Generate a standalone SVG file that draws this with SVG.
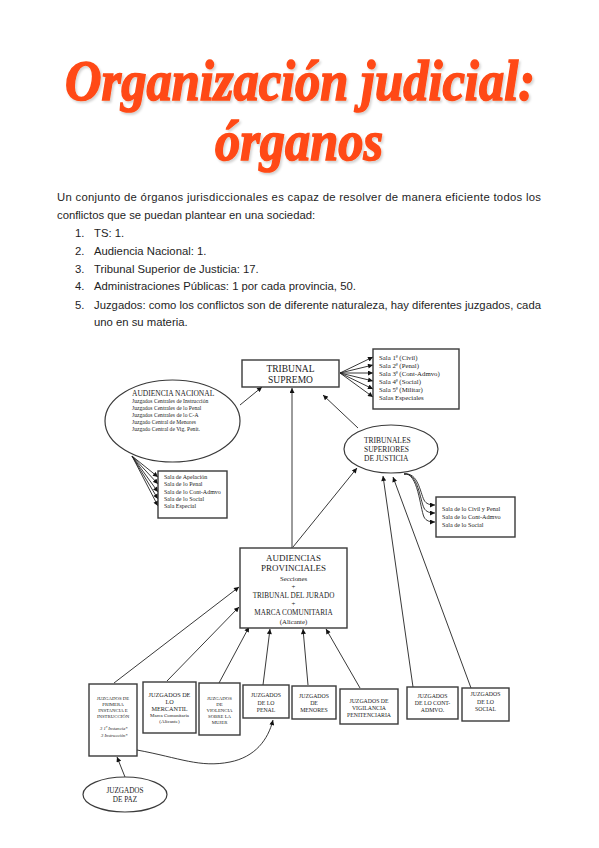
<svg xmlns="http://www.w3.org/2000/svg" width="599" height="848" viewBox="0 0 599 848">
<style>
.title{font-family:"Liberation Serif","DejaVu Serif",serif;font-weight:bold;font-style:italic;fill:#FF4A14;stroke:#FF4A14;stroke-width:1.4px;text-anchor:middle}
.p{font-family:"Liberation Sans",Arial,sans-serif;font-size:11.3px;fill:#1e1e1e}
.t{font-family:"Liberation Serif","Times New Roman",serif;fill:#222}
.c{text-anchor:middle}
.box{fill:#fff;stroke:#3a3a3a;stroke-width:1.4}
.ell{fill:#fff;stroke:#3a3a3a;stroke-width:1.2}
.ar{fill:none;stroke:#222;stroke-width:0.9;marker-end:url(#ah)}
</style>
<defs>
<marker id="ah" viewBox="0 0 10 10" refX="10" refY="5" markerWidth="6" markerHeight="5" markerUnits="userSpaceOnUse" orient="auto">
<path d="M0,0 L10,5 L0,10 z" fill="#111"/>
</marker>
<filter id="sh" filterUnits="userSpaceOnUse" x="0" y="30" width="599" height="160">
<feDropShadow dx="1.5" dy="2" stdDeviation="1.2" flood-color="#000" flood-opacity="0.18"/>
</filter>
</defs>
<rect width="599" height="848" fill="#fff"/>

<g id="title" filter="url(#sh)">
<text class="title" transform="translate(300,100) scale(1,1.16)" x="0" y="0" font-size="50" textLength="470" lengthAdjust="spacingAndGlyphs">Organización judicial:</text>
<text class="title" transform="translate(299,160) scale(1,1.16)" x="0" y="0" font-size="50" textLength="168" lengthAdjust="spacingAndGlyphs">órganos</text>
</g>

<g id="intro">
<text class="p" x="57" y="201" textLength="484" lengthAdjust="spacing">Un conjunto de órganos jurisdiccionales es capaz de resolver de manera eficiente todos los</text>
<text class="p" x="57" y="219">conflictos que se puedan plantear en una sociedad:</text>
<text class="p" x="75" y="237">1.</text><text class="p" x="94" y="237">TS: 1.</text>
<text class="p" x="75" y="255">2.</text><text class="p" x="94" y="255">Audiencia Nacional: 1.</text>
<text class="p" x="75" y="273">3.</text><text class="p" x="94" y="273">Tribunal Superior de Justicia: 17.</text>
<text class="p" x="75" y="290">4.</text><text class="p" x="94" y="290">Administraciones Públicas: 1 por cada provincia, 50.</text>
<text class="p" x="75" y="309">5.</text><text class="p" x="94" y="309" textLength="447" lengthAdjust="spacing">Juzgados: como los conflictos son de diferente naturaleza, hay diferentes juzgados, cada</text>
<text class="p" x="94" y="326">uno en su materia.</text>
</g>

<g id="connectors">
<path class="ar" d="M340,373 L373,357"/>
<path class="ar" d="M340,373 L373,365"/>
<path class="ar" d="M340,373 L373,373"/>
<path class="ar" d="M340,373 L373,381"/>
<path class="ar" d="M340,373 L373,389"/>
<path class="ar" d="M340,373 L373,397"/>
<path class="ar" d="M240,405 L262,387"/>
<path class="ar" d="M132,456 L158,477"/>
<path class="ar" d="M132,456 L158,484"/>
<path class="ar" d="M132,456 L158,492"/>
<path class="ar" d="M132,456 L158,499"/>
<path class="ar" d="M132,456 L158,506"/>
<path class="ar" d="M292,548 L292,388"/>
<path class="ar" d="M358,428 L323,395"/>
<path class="ar" d="M293,547 L357,468"/>
<path class="ar" d="M404,474 C418,472 420,492 424,500 C426,504 430,505 435,505"/>
<path class="ar" d="M404,474 C418,472 420,500 424,508 C426,512 430,513 435,513"/>
<path class="ar" d="M404,474 C418,472 420,508 424,517 C426,521 430,522 435,522"/>
<path class="ar" d="M114,683 L239,587"/>
<path class="ar" d="M167,681 L239,607"/>
<path class="ar" d="M219,683 L249,627"/>
<path class="ar" d="M263,685 L270,629"/>
<path class="ar" d="M308,685 L303,629"/>
<path class="ar" d="M360,688 L326,629"/>
<path class="ar" d="M413,687 L383,476"/>
<path class="ar" d="M471,688 L393,477"/>
<path class="ar" d="M125,777 L117,757"/>
<path class="ar" d="M137,750 C180,758 200,768 230,762 C255,757 268,740 273,720"/>
</g>

<g id="tribunal-supremo">
<rect class="box" x="242" y="360" width="97" height="27"/>
<text class="t c" x="290.5" y="372" font-size="9.5">TRIBUNAL</text>
<text class="t c" x="290.5" y="383" font-size="9.5">SUPREMO</text>
</g>

<g id="salas-ts">
<rect class="box" x="373" y="349" width="86" height="60"/>
<text class="t" x="379" y="359.5" font-size="6.8">Sala 1ª (Civil)</text>
<text class="t" x="379" y="367.5" font-size="6.8">Sala 2ª (Penal)</text>
<text class="t" x="379" y="375.5" font-size="6.8">Sala 3ª (Cont-Admvo)</text>
<text class="t" x="379" y="383.5" font-size="6.8">Sala 4ª (Social)</text>
<text class="t" x="379" y="391.5" font-size="6.8">Sala 5ª (Militar)</text>
<text class="t" x="379" y="399.5" font-size="6.8">Salas Especiales</text>
</g>

<g id="audiencia-nacional">
<ellipse class="ell" cx="172.5" cy="421" rx="67.5" ry="41"/>
<text class="t" x="132" y="396" font-size="7.5">AUDIENCIA NACIONAL</text>
<text class="t" x="132" y="403" font-size="5.6">Juzgados Centrales de Instrucción</text>
<text class="t" x="132" y="410" font-size="5.6">Juzgados Centrales de lo Penal</text>
<text class="t" x="132" y="417" font-size="5.6">Juzgados Centrales de lo C-A</text>
<text class="t" x="132" y="424" font-size="5.6">Juzgado Central de Menores</text>
<text class="t" x="132" y="431" font-size="5.6">Juzgado Central de Vig. Penit.</text>
</g>

<g id="salas-an">
<rect class="box" x="158" y="471" width="69" height="47"/>
<text class="t" x="164" y="479" font-size="6">Sala de Apelación</text>
<text class="t" x="164" y="486" font-size="6">Sala de lo Penal</text>
<text class="t" x="164" y="494" font-size="6">Sala de lo Cont-Admvo</text>
<text class="t" x="164" y="501" font-size="6">Sala de lo Social</text>
<text class="t" x="164" y="508" font-size="6">Sala Especial</text>
</g>

<g id="tsj">
<ellipse class="ell" cx="391" cy="449" rx="47" ry="24"/>
<text class="t" x="364" y="442.5" font-size="7.5">TRIBUNALES</text>
<text class="t" x="364" y="451.5" font-size="7.5">SUPERIORES</text>
<text class="t" x="364" y="460.5" font-size="7.5">DE JUSTICIA</text>
</g>

<g id="salas-tsj">
<rect class="box" x="436" y="497" width="79" height="40"/>
<text class="t" x="442" y="511" font-size="6.2">Sala de lo Civil y Penal</text>
<text class="t" x="442" y="519" font-size="6.2">Sala de lo Cont-Admvo</text>
<text class="t" x="442" y="527" font-size="6.2">Sala de lo Social</text>
</g>

<g id="audiencias-provinciales">
<rect class="box" x="240" y="548" width="107" height="80"/>
<text class="t c" x="293.5" y="560.5" font-size="9">AUDIENCIAS</text>
<text class="t c" x="293.5" y="570.5" font-size="9">PROVINCIALES</text>
<text class="t c" x="293.5" y="580.5" font-size="6.8">Secciones</text>
<text class="t c" x="293.5" y="588.5" font-size="6.8">+</text>
<text class="t c" x="293.5" y="597.5" font-size="7.2">TRIBUNAL DEL JURADO</text>
<text class="t c" x="293.5" y="605.5" font-size="6.8">+</text>
<text class="t c" x="293.5" y="614.5" font-size="7.2">MARCA COMUNITARIA</text>
<text class="t c" x="293.5" y="623.5" font-size="6.8">(Alicante)</text>
</g>

<g id="juzgados-primera-instancia">
<rect class="box" x="89" y="684" width="48" height="72"/>
<text class="t c" x="113" y="699.5" font-size="4.8">JUZGADOS DE</text>
<text class="t c" x="113" y="705.5" font-size="4.8">PRIMERA</text>
<text class="t c" x="113" y="711.5" font-size="4.8">INSTANCIA E</text>
<text class="t c" x="113" y="717.5" font-size="4.8">INSTRUCCIÓN</text>
<text class="t" x="100" y="729.5" font-size="4.6" font-style="italic">3 1ª Instancia*</text>
<text class="t" x="101" y="736.5" font-size="4.6" font-style="italic">3 Instrucción*</text>
</g>

<g id="juzgados-mercantil">
<rect class="box" x="143" y="682" width="53" height="51"/>
<text class="t c" x="169.5" y="697" font-size="6.2">JUZGADOS DE</text>
<text class="t c" x="169.5" y="704" font-size="6.2">LO</text>
<text class="t c" x="169.5" y="711" font-size="6.2">MERCANTIL</text>
<text class="t c" x="169.5" y="717" font-size="5">Marca Comunitaria</text>
<text class="t c" x="169.5" y="723" font-size="5">(Alicante)</text>
</g>

<g id="juzgados-violencia">
<rect class="box" x="199" y="683" width="41" height="52"/>
<text class="t c" x="219.5" y="699.5" font-size="4.8">JUZGADOS</text>
<text class="t c" x="219.5" y="705.5" font-size="4.8">DE</text>
<text class="t c" x="219.5" y="711.5" font-size="4.8">VIOLENCIA</text>
<text class="t c" x="219.5" y="717.5" font-size="4.8">SOBRE LA</text>
<text class="t c" x="219.5" y="723.5" font-size="4.8">MUJER</text>
</g>

<g id="juzgados-penal">
<rect class="box" x="243" y="685" width="46" height="33"/>
<text class="t c" x="266" y="697" font-size="5.8">JUZGADOS</text>
<text class="t c" x="266" y="704.5" font-size="5.8">DE LO</text>
<text class="t c" x="266" y="712" font-size="5.8">PENAL</text>
</g>

<g id="juzgados-menores">
<rect class="box" x="292" y="686" width="44" height="33"/>
<text class="t c" x="314" y="698" font-size="5.8">JUZGADOS</text>
<text class="t c" x="314" y="705" font-size="5.8">DE</text>
<text class="t c" x="314" y="711.5" font-size="5.8">MENORES</text>
</g>

<g id="juzgados-vigilancia">
<rect class="box" x="340" y="689" width="58" height="35"/>
<text class="t c" x="369" y="703" font-size="5.8">JUZGADOS DE</text>
<text class="t c" x="369" y="710" font-size="5.8">VIGILANCIA</text>
<text class="t c" x="369" y="716.5" font-size="5.8">PENITENCIARIA</text>
</g>

<g id="juzgados-cont-admvo">
<rect class="box" x="407" y="687" width="51" height="32"/>
<text class="t c" x="432.5" y="698" font-size="5.8">JUZGADOS</text>
<text class="t c" x="432.5" y="705" font-size="5.8">DE LO CONT-</text>
<text class="t c" x="432.5" y="712" font-size="5.8">ADMVO.</text>
</g>

<g id="juzgados-social">
<rect class="box" x="462" y="688" width="47" height="33"/>
<text class="t c" x="485.5" y="696" font-size="5.8">JUZGADOS</text>
<text class="t c" x="485.5" y="703.5" font-size="5.8">DE LO</text>
<text class="t c" x="485.5" y="710.5" font-size="5.8">SOCIAL</text>
</g>

<g id="juzgados-paz">
<ellipse class="ell" cx="125" cy="794.5" rx="42" ry="17.5"/>
<text class="t c" x="125" y="792.5" font-size="7.2">JUZGADOS</text>
<text class="t c" x="125" y="801.5" font-size="7.2">DE PAZ</text>
</g>
</svg>
